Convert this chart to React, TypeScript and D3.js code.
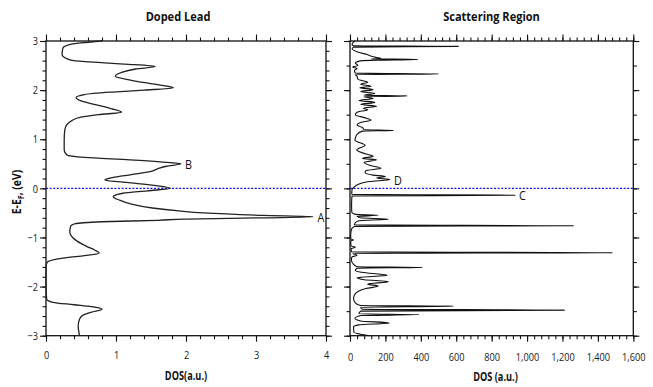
import React, { useEffect, useRef } from "react";
import * as d3 from "d3";

// [E - E_F (eV), DOS], top to bottom
const leadDos: [number, number][] = [
  [3.0, 0.8], [2.96, 0.5], [2.92, 0.32], [2.85, 0.24], [2.72, 0.23], [2.64, 0.3],
  [2.6, 0.4], [2.55, 0.9], [2.53, 1.12], [2.48, 1.56], [2.43, 1.28], [2.36, 1.08],
  [2.28, 0.99], [2.2, 1.22], [2.12, 1.55], [2.05, 1.82], [2.0, 1.4], [1.96, 0.95],
  [1.91, 0.55], [1.85, 0.43], [1.78, 0.5], [1.7, 0.72], [1.62, 0.94], [1.55, 1.08],
  [1.5, 0.75], [1.45, 0.5], [1.38, 0.37], [1.3, 0.3], [1.2, 0.27], [1.0, 0.26],
  [0.78, 0.26], [0.68, 0.3], [0.63, 0.55], [0.58, 1.2], [0.54, 1.63], [0.5, 1.93],
  [0.45, 1.72], [0.4, 1.6], [0.34, 1.49], [0.28, 1.22], [0.22, 0.95], [0.17, 0.84],
  [0.12, 1.15], [0.06, 1.55], [0.0, 1.78], [-0.05, 1.45], [-0.1, 1.1], [-0.17, 0.96],
  [-0.24, 1.05], [-0.32, 1.22], [-0.4, 1.52], [-0.46, 1.9], [-0.5, 2.25], [-0.55, 3.1],
  [-0.58, 3.82], [-0.6, 3.1], [-0.625, 2.0], [-0.65, 1.6], [-0.68, 0.8], [-0.72, 0.42],
  [-0.78, 0.35], [-0.9, 0.34], [-1.0, 0.38], [-1.08, 0.45], [-1.18, 0.58], [-1.26, 0.7],
  [-1.32, 0.76], [-1.37, 0.55], [-1.41, 0.3], [-1.45, 0.12], [-1.5, 0.02], [-1.6, 0.0],
  [-2.0, 0.0], [-2.26, 0.01], [-2.32, 0.1], [-2.37, 0.4], [-2.41, 0.65], [-2.46, 0.8],
  [-2.52, 0.65], [-2.58, 0.53], [-2.66, 0.48], [-2.8, 0.46], [-3.0, 0.48],
];

const scatDos: [number, number][] = [
  [3.0, 30], [2.96, 15], [2.92, 12], [2.905, 20], [2.89, 612], [2.875, 20], [2.84, 12],
  [2.78, 40], [2.72, 100], [2.69, 122], [2.665, 150], [2.645, 175], [2.635, 120],
  [2.625, 383], [2.61, 150], [2.595, 60], [2.55, 30], [2.5, 45], [2.47, 15], [2.44, 40],
  [2.4, 25], [2.345, 30], [2.33, 500], [2.315, 30], [2.28, 40], [2.22, 45], [2.16, 100],
  [2.12, 60], [2.08, 120], [2.05, 55], [2.01, 130], [1.97, 60], [1.93, 140], [1.895, 80],
  [1.88, 322], [1.865, 80], [1.83, 130], [1.79, 50], [1.75, 140], [1.71, 60], [1.67, 150],
  [1.63, 75], [1.6, 100], [1.55, 40], [1.5, 30], [1.44, 80], [1.39, 120], [1.34, 60],
  [1.29, 40], [1.24, 70], [1.195, 80], [1.18, 245], [1.165, 70], [1.1, 40], [1.02, 30],
  [0.98, 28], [0.88, 85], [0.78, 38], [0.7, 90], [0.65, 130], [0.61, 70], [0.58, 150],
  [0.53, 80], [0.47, 110], [0.41, 175], [0.36, 90], [0.31, 85], [0.27, 130], [0.24, 200],
  [0.21, 150], [0.18, 226], [0.14, 110], [0.08, 45], [0.03, 25], [-0.02, 12], [-0.1, 10],
  [-0.125, 12], [-0.14, 932], [-0.155, 12], [-0.2, 10], [-0.35, 9], [-0.48, 10], [-0.53, 30],
  [-0.55, 160], [-0.57, 40], [-0.6, 60], [-0.63, 217], [-0.66, 50], [-0.7, 30],
  [-0.745, 25], [-0.76, 1262], [-0.775, 25], [-0.82, 10], [-0.95, 4], [-1.03, 5],
  [-1.05, 20], [-1.07, 4], [-1.17, 6], [-1.2, 30], [-1.23, 6], [-1.295, 10], [-1.31, 1484],
  [-1.325, 15], [-1.36, 40], [-1.4, 10], [-1.46, 8], [-1.55, 20], [-1.595, 40], [-1.61, 409],
  [-1.625, 40], [-1.67, 30], [-1.72, 90], [-1.77, 211], [-1.82, 40], [-1.86, 80],
  [-1.9, 217], [-1.95, 100], [-1.99, 160], [-2.04, 90], [-2.1, 45], [-2.17, 25],
  [-2.25, 20], [-2.33, 30], [-2.385, 60], [-2.4, 584], [-2.42, 60], [-2.46, 70],
  [-2.48, 1211], [-2.5, 60], [-2.555, 50], [-2.57, 390], [-2.59, 60], [-2.65, 28],
  [-2.7, 60], [-2.74, 222], [-2.78, 50], [-2.82, 20], [-2.93, 22], [-2.97, 60], [-3.0, 110],
];

// peak labels: [name, E, DOS]
const leadPeaks: [string, number, number][] = [["A", -0.58, 3.82], ["B", 0.5, 1.93]];
const scatPeaks: [string, number, number][] = [["C", -0.14, 932], ["D", 0.18, 226]];

const energyTicks = [-3, -2, -1, 0, 1, 2, 3];
const leadTicks = [0, 1, 2, 3, 4];
const scatTicks = [0, 200, 400, 600, 800, 1000, 1200, 1400, 1600];

const font = "'Open Sans', 'DejaVu Sans', sans-serif";
const narrow = 0.8; // the figure uses a condensed face

const App = () => {
  const ref = useRef<SVGSVGElement>(null);

  useEffect(() => {
    document.body.style.margin = "0";
    const svg = d3.select(ref.current);
    svg.selectAll("*").remove();

    const top = 41;
    const bottom = 335.7;
    const y = d3.scaleLinear().domain([-3, 3]).range([bottom, top]);
    const xL = d3.scaleLinear().domain([0, 4]).range([46, 326]);
    const xR = d3.scaleLinear().domain([0, 1600]).range([350, 633.3]);

    const panel = (
      x: d3.ScaleLinear<number, number>,
      majorX: number[],
      minorX: number[],
      minorY: number[],
      fmt: (d: number) => string,
      showY: boolean,
      pad: number
    ) => {
      const [x0, x1] = x.range();
      const g = svg.append("g");
      const tick = (axis: any, tr: string, size: number, labels: boolean, p = pad) => {
        const a = g.append("g").attr("transform", tr).call(axis.tickSize(size).tickPadding(p));
        a.select(".domain").remove();
        a.selectAll("line").attr("stroke", "#111").attr("stroke-width", 1.1);
        a.selectAll("text")
          .attr("font-family", font)
          .attr("font-size", 11.5)
          .attr("fill", "#222")
          .attr("transform", `scale(${narrow},1)`);
        if (!labels) a.selectAll("text").remove();
        return a;
      };
      // x axes
      tick(d3.axisBottom(x).tickValues(majorX).tickFormat((d: any) => fmt(d)), `translate(0,${bottom})`, 6, true);
      tick(d3.axisBottom(x).tickValues(minorX), `translate(0,${bottom})`, 3.5, false);
      tick(d3.axisTop(x).tickValues(majorX), `translate(0,${top})`, 6.5, false);
      tick(d3.axisTop(x).tickValues(minorX), `translate(0,${top})`, 3.5, false);
      // y axes
      tick(d3.axisLeft(y).tickValues(energyTicks).tickFormat((d: any) => d3.format("d")(d)), `translate(${x0},0)`, 6, showY, 4);
      tick(d3.axisLeft(y).tickValues(minorY), `translate(${x0},0)`, 3.5, false);
      tick(d3.axisRight(y).tickValues(energyTicks), `translate(${x1},0)`, 6, false);
      tick(d3.axisRight(y).tickValues(minorY), `translate(${x1},0)`, 3.5, false);

      g.append("rect")
        .attr("x", x0)
        .attr("y", top)
        .attr("width", x1 - x0)
        .attr("height", bottom - top)
        .attr("fill", "none")
        .attr("stroke", "#111")
        .attr("stroke-width", 1.3);

      g.append("line")
        .attr("x1", x0)
        .attr("x2", x1)
        .attr("y1", y(0))
        .attr("y2", y(0))
        .attr("stroke", "#1010e0")
        .attr("stroke-width", 1.3)
        .attr("stroke-dasharray", "2,1.6");
      return g;
    };

    const fine = d3.range(-3, 3.001, 0.2).map((d) => +d.toFixed(1));
    const half = d3.range(-3, 3.001, 0.5);

    const gL = panel(xL, leadTicks, d3.range(0, 4.001, 0.2).map((d) => +d.toFixed(1)), fine, d3.format("d"), true, 9);
    const gR = panel(xR, scatTicks, d3.range(0, 1601, 40), half, d3.format(","), false, 11);

    const lineL = d3
      .line<[number, number]>()
      .x((d) => xL(d[1]))
      .y((d) => y(d[0]))
      .curve(d3.curveMonotoneY);
    const lineR = d3
      .line<[number, number]>()
      .x((d) => xR(d[1]))
      .y((d) => y(d[0]))
      .curve(d3.curveMonotoneY);

    gL.append("path")
      .datum(leadDos)
      .attr("d", lineL)
      .attr("fill", "none")
      .attr("stroke", "#222")
      .attr("stroke-width", 1.3);
    gR.append("path")
      .datum(scatDos)
      .attr("d", lineR)
      .attr("fill", "none")
      .attr("stroke", "#111")
      .attr("stroke-width", 1.1);

    const peakText = (g: any, x: d3.ScaleLinear<number, number>, peaks: [string, number, number][]) => {
      g.selectAll(".peak")
        .data(peaks)
        .enter()
        .append("text")
        .attr("transform", (d: any) => `translate(${x(d[2]) + 4},${y(d[1]) + 5}) scale(0.9,1)`)
        .attr("font-family", font)
        .attr("font-size", 12)
        .attr("fill", "#111")
        .text((d: any) => d[0]);
    };
    peakText(gL, xL, leadPeaks);
    peakText(gR, xR, scatPeaks);

    const label = (x: number, yy: number, s: string, size: number, sx: number) =>
      svg
        .append("text")
        .attr("transform", `translate(${x},${yy}) scale(${sx},1)`)
        .attr("text-anchor", "middle")
        .attr("font-family", font)
        .attr("font-weight", 700)
        .attr("font-size", size)
        .attr("fill", "#111")
        .text(s);

    label(178, 21, "Doped Lead", 13, 0.85);
    label(491.5, 21, "Scattering Region", 13, 0.85);
    label(186, 380, "DOS(a.u.)", 11.5, 0.8);
    label(495.5, 381, "DOS (a.u.)", 11.5, 0.8);

    const yl = svg
      .append("text")
      .attr("transform", `translate(21,192) rotate(-90) scale(0.9,1)`)
      .attr("text-anchor", "middle")
      .attr("font-family", font)
      .attr("font-weight", 700)
      .attr("font-size", 11.5)
      .attr("fill", "#111");
    yl.append("tspan").text("E-E");
    yl.append("tspan").attr("font-size", 8).attr("dy", 3).text("F");
    yl.append("tspan").attr("dy", -3).text(", (eV)");
  }, []);

  return <svg ref={ref} width={653} height={387} style={{ display: "block", background: "#fff" }} />;
};

export default App;
